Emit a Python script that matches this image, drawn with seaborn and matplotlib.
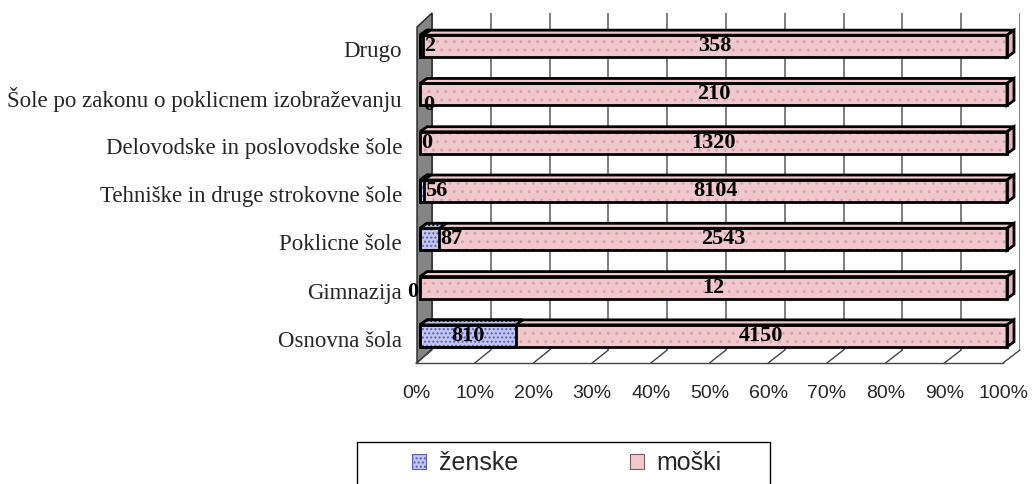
import matplotlib
matplotlib.use("Agg")
import matplotlib.pyplot as plt
import seaborn as sns
import pandas as pd
from matplotlib.patches import Polygon, Rectangle
from matplotlib.lines import Line2D

categories = ["Drugo", "Šole po zakonu o poklicnem izobraževanju",
              "Delovodske in poslovodske šole", "Tehniške in druge strokovne šole",
              "Poklicne šole", "Gimnazija", "Osnovna šola"]
zenske = [2, 0, 0, 56, 87, 0, 810]
moski = [358, 210, 1320, 8104, 2543, 12, 4150]
series_names = ["ženske", "moški"]
x_ticks = list(range(0, 101, 10))

sns.set_theme(style="white")
plt.rcParams["font.family"] = ["Liberation Serif", "DejaVu Serif"]

W, H = 1032, 484
fig = plt.figure(figsize=(W / 100, H / 100), dpi=100)

def rect(l, t, r, b):
    return [l / W, 1 - b / H, (r - l) / W, (b - t) / H]

PINK = "#f1c9cd"
PINK_DOT = "#d9a3b6"
BLUE = "#c3c6ee"
BLUE_DOT = "#5a5ec0"
GRID = "#5a5a5a"

df = pd.DataFrame({"cat": categories, "f": zenske, "m": moski})
df["tot"] = df["f"] + df["m"]
df["f_pct"] = df["f"] / df["tot"] * 100
df["all_pct"] = 100.0

# back wall with gridlines
axk = fig.add_axes(rect(432, 13, 1020, 350))
axk.set_xlim(0, 100)
axk.set_ylim(0, 1)
axk.set_xticks(x_ticks)
axk.set_yticks([])
axk.tick_params(axis="x", length=0, labelbottom=False)
axk.grid(axis="x", color=GRID, lw=1.1)
for s in axk.spines.values():
    s.set_visible(False)
axk.patch.set_alpha(0)
wall = Polygon([(417 / W, 1 - 27 / H), (432 / W, 1 - 13 / H), (432 / W, 1 - 349 / H), (417 / W, 1 - 363 / H)],
               closed=True, transform=fig.transFigure, facecolor="#858585", edgecolor="#222222",
               lw=1, clip_on=False, zorder=5)
axk.add_patch(wall)

# front axes (labels, ticks, floor)
axf = fig.add_axes(rect(416, 25, 1003, 363))
axf.set_xlim(0, 100)
axf.set_ylim(len(categories) - 0.5, -0.5)
axf.patch.set_alpha(0)
axf.set_xticks(x_ticks)
axf.set_xticklabels([f"{t}%" for t in x_ticks], family=["Liberation Sans", "DejaVu Sans"], fontsize=14)
axf.set_yticks(range(len(categories)))
axf.set_yticklabels(categories, fontsize=16.5)
axf.set_yticks([i - 0.5 for i in range(len(categories) + 1)], minor=True)
axf.tick_params(axis="y", which="major", length=0, pad=10)
axf.tick_params(axis="y", which="minor", length=6.5, width=1, color="#444444", direction="out")
axf.tick_params(axis="x", length=7, width=1, color="#444444", direction="out", pad=9)
for k in ["top", "right", "left"]:
    axf.spines[k].set_visible(False)
axf.spines["bottom"].set_color("#444444")
axf.spines["bottom"].set_linewidth(1)
axf.set_xlabel("")
axf.set_ylabel("")

# diagonals front->back
fig.canvas.draw()
inv = fig.transFigure.inverted()
for t in x_ticks:
    p0 = inv.transform(axf.transData.transform((t, len(categories) - 0.5)))
    p1 = inv.transform(axk.transData.transform((t, 0)))
    fig.add_artist(Line2D([p0[0], p1[0]], [p0[1], p1[1]], color="#444444", lw=1, transform=fig.transFigure, zorder=4))

# bars
axb = fig.add_axes(rect(420, 22, 1007, 360))
axb.patch.set_alpha(0)
BW = 0.455
sns.barplot(data=df, y="cat", x="all_pct", order=categories, orient="h", color=PINK,
            width=BW, ax=axb, saturation=1, edgecolor=PINK_DOT, linewidth=0)
n_m = len(axb.patches)
sns.barplot(data=df, y="cat", x="f_pct", order=categories, orient="h", color=BLUE,
            width=BW, ax=axb, saturation=1, edgecolor=BLUE_DOT, linewidth=0)
axb.set_xlim(0, 100)
axb.set_ylim(len(categories) - 0.5, -0.5)
axb.axis("off")

ddx = 7 * 100 / 587
ddy = 5 * 7 / 338
patches = list(axb.patches)
for i, p in enumerate(patches):
    is_m = i < n_m
    p.set_hatch("...." if not is_m else "..")
    x0, y0 = p.get_x(), p.get_y()
    w, h = p.get_width(), p.get_height()
    fc = BLUE if not is_m else PINK
    if is_m:
        top = Polygon([(x0, y0), (x0 + w, y0), (x0 + w + ddx, y0 - ddy), (x0 + ddx, y0 - ddy)],
                      closed=True, facecolor=fc, edgecolor="black", lw=2, zorder=1, clip_on=False)
        side = Polygon([(x0 + w, y0), (x0 + w + ddx, y0 - ddy), (x0 + w + ddx, y0 + h - ddy), (x0 + w, y0 + h)],
                       closed=True, facecolor="#e3b2ba", edgecolor="black", lw=2, zorder=1, clip_on=False)
        axb.add_patch(top)
        axb.add_patch(side)
        axb.add_patch(Rectangle((x0, y0), w, h, fill=False, edgecolor="black", lw=2, zorder=4, clip_on=False))
    else:
        if w > 0:
            top = Polygon([(x0, y0), (x0 + w, y0), (x0 + w + ddx, y0 - ddy), (x0 + ddx, y0 - ddy)],
                          closed=True, facecolor=fc, edgecolor="black", lw=2, zorder=2, clip_on=False,
                          hatch="....")
            axb.add_patch(top)
            axb.add_patch(Rectangle((x0, y0), w, h, fill=False, edgecolor="black", lw=2, zorder=4, clip_on=False))

# data labels
lab_font = dict(fontsize=16, fontweight="bold", color="black", zorder=6)
px_x = 100 / 587
for i, cat in enumerate(categories):
    fp = df.loc[i, "f_pct"]
    axb.text((fp + 100) / 2, i + 0.0, str(moski[i]), ha="center", va="center", **lab_font)
    if zenske[i] == 0 and moski[i] < 100:
        axb.text(-2 * px_x, i + 0.1, "0", ha="right", va="center", **lab_font)
    elif zenske[i] == 0 and moski[i] < 1000:
        axb.text(fp + 3 * px_x, i + 0.22, "0", ha="left", va="center", **lab_font)
    elif fp * 5.87 > 45:
        axb.text(fp / 2, i + 0.0, str(zenske[i]), ha="center", va="center", **lab_font)
    else:
        axb.text(fp + 1 * px_x, i + 0.0, str(zenske[i]), ha="left", va="center", **lab_font)

# legend
fig.add_artist(Rectangle((357 / W, 1 - 492 / H), (770 - 357) / W, 50 / H, transform=fig.transFigure,
                         fill=False, edgecolor="black", lw=1))
handles = [Rectangle((0, 0), 1, 1, facecolor=BLUE, edgecolor=BLUE_DOT, hatch="....", lw=0.8),
           Rectangle((0, 0), 1, 1, facecolor=PINK, edgecolor="#7a5a60", lw=0.8)]
fig.legend(handles, series_names, loc="center", bbox_to_anchor=(567 / W, 1 - 463 / H),
           ncol=2, frameon=False, handlelength=0.55, handleheight=0.55, handletextpad=0.5,
           columnspacing=4.5, prop={"family": ["Liberation Sans", "DejaVu Sans"], "size": 18})

fig.savefig("out.png", dpi=100)
